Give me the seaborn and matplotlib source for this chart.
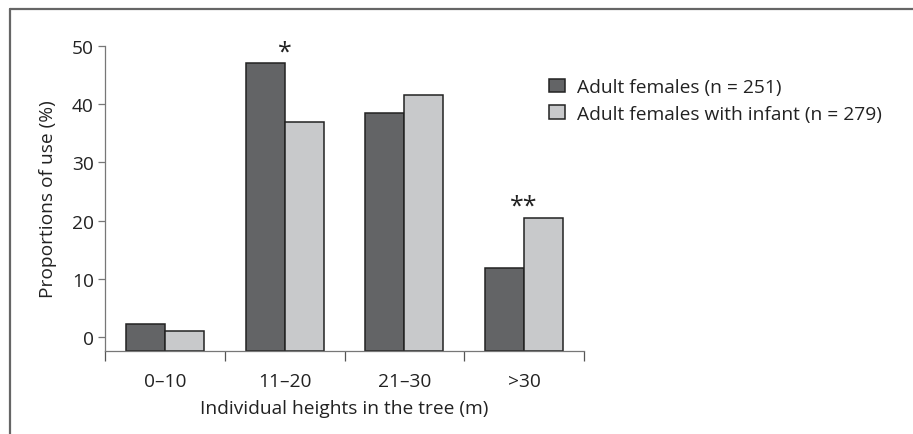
import matplotlib
matplotlib.use("Agg")
import matplotlib.pyplot as plt
from matplotlib.lines import Line2D
from matplotlib.patches import Patch
import seaborn as sns
import pandas as pd

categories = ["0\u201310", "11\u201320", "21\u201330", ">30"]
series_names = ["Adult females (n = 251)", "Adult females with infant (n = 279)"]
adult_females = [2.2, 47.1, 38.5, 11.9]
with_infant = [1.0, 36.9, 41.5, 20.4]
annotations = {"11\u201320": "*", ">30": "**"}
annotation_y = {"11\u201320": 46.8, ">30": 20.3}
y_ticks = [0, 10, 20, 30, 40, 50]

sns.set_theme(style="white")
plt.rcParams["font.family"] = ["Open Sans", "DejaVu Sans"]

df = pd.DataFrame({
    "Height": categories * 2,
    "Value": adult_females + with_infant,
    "Group": [series_names[0]] * 4 + [series_names[1]] * 4,
})

colors = ["#636466", "#c8c9cb"]
fs = 13.8
y_bottom = -2.3
fig = plt.figure(figsize=(9.13, 4.35), dpi=100)
ax = fig.add_axes([105 / 913, 1 - 351.7 / 435, (584 - 105) / 913, (351.7 - 46.7) / 435])

sns.barplot(data=df, x="Height", y="Value", hue="Group", order=categories,
            hue_order=series_names, palette=colors, width=0.65,
            edgecolor="#222222", linewidth=1.1, ax=ax, legend=False)

# bars rise from the x-axis line (below 0), as in the original figure
for p in ax.patches:
    top = p.get_y() + p.get_height()
    p.set_y(y_bottom)
    p.set_height(top - y_bottom)

ax.set_xlim(-0.5, 3.5)
ax.set_ylim(y_bottom, 50)
ax.set_yticks(y_ticks)
text_color = "#222222"
ax.tick_params(axis="y", direction="out", length=5, width=0.9, color="#777777",
               labelsize=fs, labelcolor=text_color, pad=3, left=True)
ax.set_xticks(range(len(categories)))
ax.set_xticklabels(categories)
ax.tick_params(axis="x", which="major", length=0, labelsize=fs, labelcolor=text_color, pad=15)
ax.set_xticks([-0.5, 0.5, 1.5, 2.5, 3.5], minor=True)
ax.tick_params(axis="x", which="minor", direction="out", length=7.5, width=0.9,
               color="#555555", bottom=True)
for s in ["top", "right"]:
    ax.spines[s].set_visible(False)
for s in ["left", "bottom"]:
    ax.spines[s].set_color("#777777")
    ax.spines[s].set_linewidth(0.9)

ax.set_xlabel("Individual heights in the tree (m)", fontsize=fs, color=text_color, labelpad=7)
ax.set_ylabel("Proportions of use (%)", fontsize=fs, color=text_color, labelpad=11)

for i, c in enumerate(categories):
    if c in annotations:
        ax.text(i, annotation_y[c], annotations[c], ha="center", va="bottom",
                fontsize=18, color=text_color)

handles = [Patch(facecolor=colors[k], edgecolor="#222222", linewidth=1.1, label=series_names[k])
           for k in range(2)]
fig.legend(handles=handles, loc="upper left", bbox_to_anchor=(549 / 913, 1 - 79 / 435),
           frameon=False, fontsize=fs, handlelength=0.85, handleheight=0.7,
           handletextpad=0.6, labelspacing=0.45, labelcolor=text_color, borderaxespad=0,
           borderpad=0)

fig.add_artist(Line2D([10 / 913, 1.0], [1 - 10 / 435, 1 - 10 / 435], transform=fig.transFigure,
                      color="#666666", linewidth=1.6))
fig.add_artist(Line2D([10 / 913, 10 / 913], [1 - 10 / 435, 0], transform=fig.transFigure,
                      color="#666666", linewidth=1.6))

fig.savefig("out.png", dpi=100)
